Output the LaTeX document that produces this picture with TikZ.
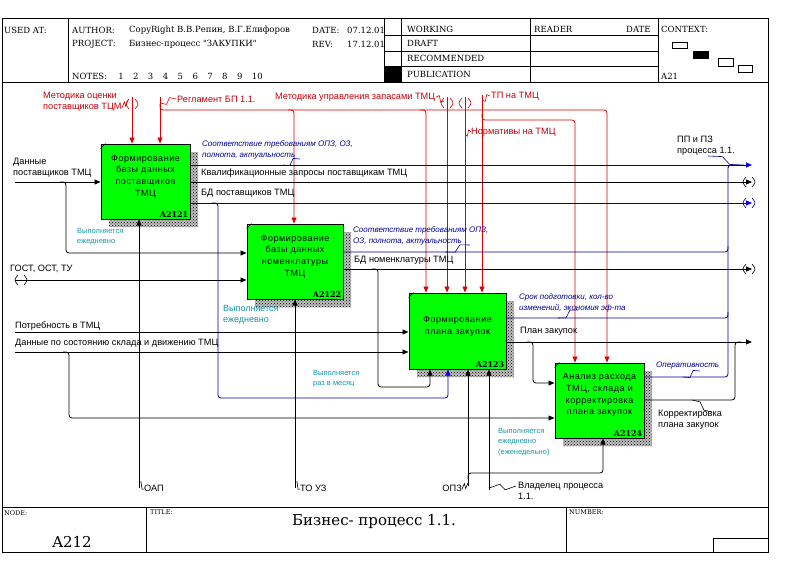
\documentclass[tikz,border=0pt]{standalone}
\usepackage{fontspec}
\setmainfont{Liberation Sans}
\newfontfamily\hdrfont{DejaVu Serif}
\newfontfamily\boxfont[LetterSpace=6]{Liberation Sans}
\usetikzlibrary{arrows.meta,patterns,calc}

\definecolor{ctlred}{RGB}{220,0,0}
\definecolor{lblred}{RGB}{195,0,10}
\definecolor{outblue}{RGB}{0,0,150}
\definecolor{tipblue}{RGB}{0,0,235}
\definecolor{noteteal}{RGB}{20,150,165}
\definecolor{boxgreen}{RGB}{0,255,0}

% label-to-arrow squiggle and tunnel brackets
\newcommand{\squig}[3][black]{\draw[#1,line width=0.6pt] (#2) -- ($(#2)!0.4!(#3)+(0,-3)$) -- ($(#2)!0.6!(#3)+(0,3)$) -- (#3);}
\newcommand{\tunv}[3][ctlred]{%
  \draw[#1,line width=0.6pt] ({#2-3},{#3-5}) .. controls ({#2-7},{#3}) .. ({#2-3},{#3+5});
  \draw[#1,line width=0.6pt] ({#2+3},{#3-5}) .. controls ({#2+7},{#3}) .. ({#2+3},{#3+5});}
\newcommand{\tunh}[3][black]{%
  \draw[#1,line width=0.6pt] ({#2-6},{#3-5}) .. controls ({#2-10},{#3}) .. ({#2-6},{#3+5});
  \draw[#1,line width=0.6pt] ({#2},{#3-5}) .. controls ({#2+4},{#3}) .. ({#2},{#3+5});}

\tikzset{
  hdr/.style={font=\hdrfont\fontsize{8.5}{10}\selectfont, anchor=west, inner sep=0pt},
  hdrsmall/.style={hdr, anchor=north west, font=\hdrfont\fontsize{6.5}{8}\selectfont},
  hdrbig/.style={hdr, anchor=center, font=\hdrfont\fontsize{15}{18}\selectfont},
  procbox/.style={draw, line width=1pt, fill=boxgreen, inner sep=0pt,
    preaction={fill=black!25, transform canvas={xshift=8pt,yshift=-8pt}},
    preaction={pattern=crosshatch dots, pattern color=black, transform canvas={xshift=8pt,yshift=-8pt}}},
  boxtext/.style={font=\boxfont\fontsize{9}{11.8}\selectfont, align=center, inner sep=0pt},
  boxid/.style={font=\hdrfont\bfseries\fontsize{8}{9}\selectfont, anchor=south east, inner sep=2pt},
  blk/.style={draw=black, line width=0.8pt, rounded corners=3pt},
  ctl/.style={draw=ctlred, line width=0.8pt, rounded corners=3pt},
  outb/.style={draw=outblue, line width=0.8pt, rounded corners=3pt},
  arr/.style={-{Triangle[length=6pt,width=5pt]}},
  barr/.style={-{Triangle[length=6pt,width=5pt,color=tipblue]}},
  lbl/.style={font=\fontsize{9.2}{11}\selectfont, anchor=west, inner sep=0pt, align=left},
  rlbl/.style={lbl, text=lblred},
  ilbl/.style={font=\itshape\fontsize{8}{11}\selectfont, text=outblue, anchor=north west, inner sep=0pt, align=left},
  freqnote/.style={font=\fontsize{7.5}{10.5}\selectfont, text=noteteal, anchor=north west, inner sep=0pt, align=left},
}

\begin{document}
\begin{tikzpicture}[x=1pt,y=-1pt]
\useasboundingbox (0,0) rectangle (796,581);
% frame
\draw[line width=0.8pt] (2,18) rectangle (768,552);
\draw (2,82) -- (768,82);
\draw (2,507) -- (768,507);
\draw (68,18) -- (68,82);
\draw (384,18) -- (384,82);
\draw (401,18) -- (401,82);
\draw (530,18) -- (530,82);
\draw (658,18) -- (658,82);
\foreach \y in {35,51,66} \draw (384,\y) -- (658,\y);
\fill (384,66) rectangle (401,82);
\draw (146,507) -- (146,552);
\draw (566,507) -- (566,552);
\draw (713,538) rectangle (768,552);
% context
\draw (672,42) rectangle (687,48);
\fill (693,51) rectangle (709,59);
\draw (718,58) rectangle (733,66);
\draw (738,65) rectangle (752,72);

% header text
\node[hdr] (usedat) at (4,30) {USED AT:};
\node[hdr] (author) at (72,30) {AUTHOR:};
\node[hdr] (authname) at (129,30) {CopyRight В.В.Репин, В.Г.Елифоров};
\node[hdr] (date) at (312,30) {DATE:};
\node[hdr] (dateval) at (347,30) {07.12.01};
\node[hdr] (project) at (72,44) {PROJECT:};
\node[hdr] (projname) at (129,44) {Бизнес-процесс "ЗАКУПКИ"};
\node[hdr] (rev) at (312,44) {REV:};
\node[hdr] (revval) at (347,44) {17.12.01};
\node[hdr] (notes) at (72,76) {NOTES:};
\foreach \n in {1,...,10} \node[hdr] (note\n) at ({103.2+14.85*\n},76) {\n};
\node[hdr] (working) at (407,29) {WORKING};
\node[hdr] (draft) at (407,43) {DRAFT};
\node[hdr] (recom) at (407,58) {RECOMMENDED};
\node[hdr] (public) at (407,74) {PUBLICATION};
\node[hdr] (reader) at (534,29) {READER};
\node[hdr] (rdate) at (626,29) {DATE};
\node[hdr] (context) at (661,29) {CONTEXT:};
\node[hdr] (ctxnode) at (661,76) {A21};

% footer text
\node[hdrsmall] (nodelbl) at (4,510) {NODE:};
\node[hdrbig] (nodeval) at (72,542) {A212};
\node[hdrsmall] (titlelbl) at (150,510) {TITLE:};
\node[hdrbig] (titleval) at (374,521) {Бизнес- процесс 1.1.};
\node[hdrsmall] (numlbl) at (569,510) {NUMBER:};

% activity boxes
\node[procbox, minimum width=89pt, minimum height=75pt] (a2121) at (145.5,181.5) {};
\node[procbox, minimum width=96pt, minimum height=75pt] (a2122) at (295,261.5) {};
\node[procbox, minimum width=97pt, minimum height=76pt] (a2123) at (457.5,331) {};
\node[procbox, minimum width=89pt, minimum height=75pt] (a2124) at (599.5,400.5) {};
\foreach \b in {a2121,a2122,a2123,a2124} \draw[line width=0.6pt] (\b.north west) ++(0,5) -- ++(5,-5);

\node[boxtext] (a2121txt) at ([yshift=5pt]a2121.center) {Формирование\\базы данных\\поставщиков\\ТМЦ};
\node[boxid] (a2121id) at (a2121.south east) {A2121};
\node[boxtext] (a2122txt) at ([yshift=5pt]a2122.center) {Формирование\\базы данных\\номенклатуры\\ТМЦ};
\node[boxid] (a2122id) at (a2122.south east) {A2122};
\node[boxtext] (a2123txt) at ([yshift=5pt]a2123.center) {Формирование\\плана закупок};
\node[boxid] (a2123id) at (a2123.south east) {A2123};
\node[boxtext] (a2124txt) at ([yshift=5.5pt]a2124.center) {Анализ расхода\\ТМЦ, склада и\\корректировка\\плана закупок};
\node[boxid] (a2124id) at (a2124.south east) {A2124};

% inputs
\coordinate (in1) at (15,182);
\coordinate (in2) at (15,280);
\coordinate (in3) at (15,332);
\coordinate (in4) at (15,352);
\draw[blk,arr] (in1) -- (in1 -| a2121.west);
\draw[blk,arr] (60,182) -- (66,182) -- (66,253) -- (a2122.west |- 0,253);
\draw[blk,arr] (in2) -- (in2 -| a2122.west);
\tunh{24}{280}
\draw[blk,arr] (in3) -- (in3 -| a2123.west);
\draw[blk,arr] (in4) -- (in4 -| a2123.west);
\draw[blk,arr] (63,352) -- (69,352) -- (69,418) -- (a2124.west |- 0,418);

% controls
\coordinate (c1) at (132,97);
\coordinate (c2) at (160,97);
\coordinate (c3) at (447,97);
\coordinate (c4) at (465,97);
\coordinate (c5) at (482,95);
\draw[ctl,arr] (c1) -- (c1 |- a2121.north);
\draw[ctl,arr] (c2) -- (c2 |- a2121.north);
\draw[ctl,arr] (160,104) -- (160,110) -- (607,110) -- (607,110 |- a2124.north);
\draw[ctl,arr] (288,110) -- (294,110) -- (294,110 |- a2122.north);
\draw[ctl,arr] (420,110) -- (426,110) -- (426,110 |- a2123.north);
\draw[ctl,arr] (c3) -- (c3 |- a2123.north);
\draw[ctl,arr] (c4) -- (c4 |- a2123.north);
\draw[ctl,arr] (c5) -- (c5 |- a2123.north);
\draw[ctl,arr] (482,114) -- (482,120) -- (575,120) -- (575,120 |- a2124.north);
\tunv{132}{104}
\tunv{447}{103}
\tunv{465}{103}

% mechanisms
\coordinate (m1) at (139,488);
\coordinate (m2) at (295,488);
\coordinate (m3) at (468,486);
\coordinate (m4) at (489,490);
\draw[blk,arr] (m1) -- (m1 |- a2121.south);
\draw[blk,arr] (m2) -- (m2 |- a2122.south);
\draw[blk,arr] (m3) -- (m3 |- a2123.south);
\draw[blk,arr] (m4) -- (m4 |- a2123.south);
\draw[blk,arr] (468,479) -- (468,473) -- (603,473) -- (603,473 |- a2124.south);
\draw[blk,arr] (372,269) -- (378,269) -- (378,387) -- (430,387) -- (430,387 |- a2123.south);
\draw[outb,barr] (212,203) -- (218,203) -- (218,398) -- (448,398) -- (448,398 |- a2123.south);

% outputs
\coordinate (o1) at (752,165);
\coordinate (o2) at (752,182);
\coordinate (o3) at (752,203);
\coordinate (o5) at (752,269);
\coordinate (o7) at (752,342);
\draw[outb,barr] (a2121.east |- o1) -- (o1);
\draw[blk,arr] (a2121.east |- o2) -- (o2);
\draw[outb,barr] (a2121.east |- o3) -- (o3);
\draw[outb] (a2122.east |- 0,252) -- (728,252) -- (728,246);
\draw[blk,arr] (a2122.east |- o5) -- (o5);
\draw[outb] (a2123.east |- 0,318) -- (728,318) -- (728,312);
\draw[blk,arr] (a2123.east |- o7) -- (o7);
\draw[blk,arr] (527,342) -- (533,342) -- (533,383) -- (a2124.west |- 0,383);
\draw[outb] (a2124.east |- 0,377) -- (728,377) -- (728,165) -- (734,165);
\draw[blk] (a2124.east |- 0,400) -- (735,400) -- (735,342) -- (741,342);
\tunh{752}{182}
\tunh[outblue]{752}{203}
\tunh{752}{269}

% labels
\node[rlbl, anchor=north west] (lmetod) at (43,92) {Методика оценки\\поставщиков ТЦМ};
\node[rlbl] (lregl) at (177,99) {Регламент БП 1.1.};
\node[rlbl] (lupr) at (275,97) {Методика управления запасами ТМЦ};
\node[rlbl] (ltp) at (491,96) {ТП на ТМЦ};
\node[rlbl] (lnorm) at (471,132) {Нормативы на ТМЦ};
\node[lbl, anchor=north west] (lpp) at (677,136) {ПП и ПЗ\\процесса 1.1.};
\node[lbl, anchor=north west] (ldata) at (13,158) {Данные\\поставщиков ТМЦ};
\node[ilbl] (lsoot1) at (202,140) {Соответствие требованиям ОПЗ, ОЗ,\\полнота, актуальность};
\node[lbl] (lkval) at (201,173) {Квалификационные запросы поставщикам ТМЦ};
\node[lbl] (lbdp) at (201,193) {БД поставщиков ТМЦ};
\node[freqnote] (lfreq1) at (77,228) {Выполняется\\ежедневно};
\node[lbl] (lgost) at (10,269) {ГОСТ, ОСТ, ТУ};
\node[ilbl] (lsoot2) at (353,226) {Соответствие требованиям ОПЗ,\\ОЗ, полнота, актуальность};
\node[lbl] (lbdn) at (354,260) {БД номенклатуры ТМЦ};
\node[freqnote, font=\fontsize{9}{11}\selectfont] (lfreq2) at (223,305) {Выполняется\\ежедневно};
\node[lbl] (lpotr) at (15,326) {Потребность в ТМЦ};
\node[lbl] (lsklad) at (15,343) {Данные по состоянию склада и движению ТМЦ};
\node[ilbl] (lsrok) at (519,293) {Срок подготовки, кол-во\\изменений, экономия эф-та};
\node[lbl] (lplan) at (520,331) {План закупок};
\node[freqnote] (lfreq3) at (313,370) {Выполняется\\раз в месяц};
\node[ilbl] (loper) at (656,362) {Оперативность};
\node[lbl, anchor=north west] (lkorr) at (658,410) {Корректировка\\плана закупок};
\node[freqnote] (lfreq4) at (498,428) {Выполняется\\ежедневно\\(еженедельно)};
\node[lbl] (loap) at (144,488) {ОАП};
\node[lbl] (ltouz) at (300,488) {ТО УЗ};
\node[lbl, anchor=east] (lopz) at (462,488) {ОПЗ};
\node[lbl, anchor=north west] (lvlad) at (518,482) {Владелец процесса\\1.1.};

% squiggles
\squig[ctlred]{122,108}{128,100}
\squig[ctlred]{176,99}{160,103}
\squig[ctlred]{436,97}{444,101}
\squig[ctlred]{471,132}{465,134}
\squig[ctlred]{490,96}{482,100}
\squig{139,482}{144,489}
\squig{295,482}{300,489}
\squig{462,489}{468,483}
\squig{489,488}{516,486}
\squig[outblue]{300,159}{283,165}
\squig[outblue]{470,245}{445,252}
\squig[outblue]{578,310}{558,318}
\squig[outblue]{700,371}{683,377}
\squig{692,400}{712,412}
\squig[outblue]{708,156}{744,165}
\end{tikzpicture}
\end{document}
